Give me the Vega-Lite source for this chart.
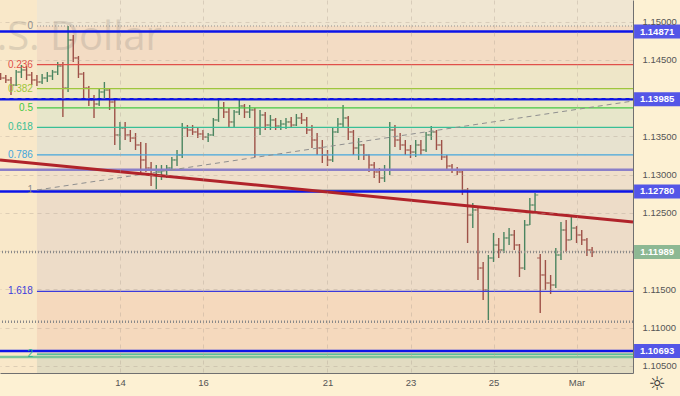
{
"$schema":"https://vega.github.io/schema/vega-lite/v6.json",
"width":633,"height":373,
"autosize":{"type":"none"},
"padding":{"left":0,"top":0,"right":47,"bottom":23},
"background":"#fdf1d3",
"view":{"fill":"#f9e8c9","stroke":null},
"datasets":{
"bars":[
{"t":0.125,"o":1.14289,"h":1.14328,"l":1.14237,"c":1.14263},
{"t":0.25,"o":1.14263,"h":1.14302,"l":1.14198,"c":1.14237},
{"t":0.375,"o":1.14237,"h":1.14276,"l":1.14041,"c":1.14171},
{"t":0.5,"o":1.14171,"h":1.14368,"l":1.14158,"c":1.14341},
{"t":0.625,"o":1.14341,"h":1.14433,"l":1.14263,"c":1.14368},
{"t":0.75,"o":1.14368,"h":1.1442,"l":1.14237,"c":1.14302},
{"t":0.875,"o":1.14302,"h":1.14341,"l":1.14171,"c":1.14237},
{"t":1.0,"o":1.14237,"h":1.14302,"l":1.14158,"c":1.14211},
{"t":1.125,"o":1.14211,"h":1.14315,"l":1.14185,"c":1.14263},
{"t":1.25,"o":1.14263,"h":1.14341,"l":1.14211,"c":1.14289},
{"t":1.375,"o":1.14289,"h":1.14368,"l":1.14237,"c":1.14341},
{"t":1.5,"o":1.14341,"h":1.14472,"l":1.14302,"c":1.1442},
{"t":1.625,"o":1.1442,"h":1.14472,"l":1.13753,"c":1.14132},
{"t":1.75,"o":1.14132,"h":1.14943,"l":1.1408,"c":1.1476},
{"t":1.875,"o":1.1476,"h":1.14825,"l":1.14472,"c":1.14525},
{"t":2.0,"o":1.14525,"h":1.14551,"l":1.14263,"c":1.14315},
{"t":2.125,"o":1.14315,"h":1.14341,"l":1.14001,"c":1.14132},
{"t":2.25,"o":1.14132,"h":1.14158,"l":1.13897,"c":1.13975},
{"t":2.375,"o":1.13975,"h":1.14041,"l":1.1374,"c":1.13923},
{"t":2.5,"o":1.13923,"h":1.14132,"l":1.13897,"c":1.1408},
{"t":2.625,"o":1.1408,"h":1.14211,"l":1.13975,"c":1.14106},
{"t":2.75,"o":1.14106,"h":1.14132,"l":1.13845,"c":1.13949},
{"t":2.875,"o":1.13949,"h":1.14001,"l":1.13387,"c":1.13518},
{"t":3.0,"o":1.13518,"h":1.13688,"l":1.13321,"c":1.13609},
{"t":3.125,"o":1.13609,"h":1.13688,"l":1.13452,"c":1.13518},
{"t":3.25,"o":1.13518,"h":1.13583,"l":1.13426,"c":1.13478},
{"t":3.375,"o":1.13478,"h":1.13544,"l":1.13321,"c":1.13387},
{"t":3.5,"o":1.13387,"h":1.13426,"l":1.12995,"c":1.13191},
{"t":3.625,"o":1.13191,"h":1.13413,"l":1.13034,"c":1.13086},
{"t":3.75,"o":1.13086,"h":1.13164,"l":1.12851,"c":1.12995},
{"t":3.875,"o":1.12995,"h":1.13125,"l":1.12811,"c":1.13034},
{"t":4.0,"o":1.13034,"h":1.13125,"l":1.12929,"c":1.1306},
{"t":4.125,"o":1.1306,"h":1.13125,"l":1.12955,"c":1.13086},
{"t":4.25,"o":1.13086,"h":1.1323,"l":1.1306,"c":1.13191},
{"t":4.375,"o":1.13191,"h":1.13321,"l":1.13112,"c":1.13256},
{"t":4.5,"o":1.13256,"h":1.13675,"l":1.13217,"c":1.13609},
{"t":4.625,"o":1.13609,"h":1.13648,"l":1.13491,"c":1.13583},
{"t":4.75,"o":1.13583,"h":1.13648,"l":1.13518,"c":1.13557},
{"t":4.875,"o":1.13557,"h":1.13609,"l":1.13478,"c":1.13531},
{"t":5.0,"o":1.13531,"h":1.13583,"l":1.13452,"c":1.13491},
{"t":5.125,"o":1.13491,"h":1.13544,"l":1.13426,"c":1.13518},
{"t":5.25,"o":1.13518,"h":1.1374,"l":1.13505,"c":1.13714},
{"t":5.375,"o":1.13714,"h":1.13975,"l":1.13688,"c":1.13871},
{"t":5.5,"o":1.13871,"h":1.13949,"l":1.1374,"c":1.13818},
{"t":5.625,"o":1.13818,"h":1.13871,"l":1.13622,"c":1.13688},
{"t":5.75,"o":1.13688,"h":1.13845,"l":1.13609,"c":1.13818},
{"t":5.875,"o":1.13818,"h":1.13975,"l":1.13779,"c":1.13897},
{"t":6.0,"o":1.13897,"h":1.13923,"l":1.1374,"c":1.13818},
{"t":6.125,"o":1.13818,"h":1.1391,"l":1.1374,"c":1.13845},
{"t":6.25,"o":1.13845,"h":1.13871,"l":1.1323,"c":1.13609},
{"t":6.375,"o":1.13609,"h":1.13845,"l":1.13518,"c":1.13779},
{"t":6.5,"o":1.13779,"h":1.13818,"l":1.13583,"c":1.13648},
{"t":6.625,"o":1.13648,"h":1.13779,"l":1.13583,"c":1.13714},
{"t":6.75,"o":1.13714,"h":1.1374,"l":1.13583,"c":1.13635},
{"t":6.875,"o":1.13635,"h":1.13714,"l":1.13583,"c":1.13661},
{"t":7.0,"o":1.13661,"h":1.1374,"l":1.13596,"c":1.13688},
{"t":7.125,"o":1.13688,"h":1.13753,"l":1.13609,"c":1.13648},
{"t":7.25,"o":1.13648,"h":1.13792,"l":1.13635,"c":1.1374},
{"t":7.375,"o":1.1374,"h":1.13805,"l":1.13661,"c":1.13714},
{"t":7.5,"o":1.13714,"h":1.13753,"l":1.13531,"c":1.13583},
{"t":7.625,"o":1.13583,"h":1.13648,"l":1.13348,"c":1.13452},
{"t":7.75,"o":1.13452,"h":1.13544,"l":1.13256,"c":1.13348},
{"t":7.875,"o":1.13348,"h":1.13452,"l":1.13151,"c":1.13256},
{"t":8.0,"o":1.13256,"h":1.13321,"l":1.13112,"c":1.13191},
{"t":8.125,"o":1.13191,"h":1.13622,"l":1.13164,"c":1.13557},
{"t":8.25,"o":1.13557,"h":1.1374,"l":1.13544,"c":1.13661},
{"t":8.375,"o":1.13661,"h":1.1391,"l":1.13609,"c":1.1374},
{"t":8.5,"o":1.1374,"h":1.13766,"l":1.13452,"c":1.13557},
{"t":8.625,"o":1.13557,"h":1.13583,"l":1.13256,"c":1.13348},
{"t":8.75,"o":1.13348,"h":1.13478,"l":1.13191,"c":1.13387},
{"t":8.875,"o":1.13387,"h":1.134,"l":1.13191,"c":1.13256},
{"t":9.0,"o":1.13256,"h":1.13269,"l":1.13034,"c":1.13125},
{"t":9.125,"o":1.13125,"h":1.13164,"l":1.12955,"c":1.13034},
{"t":9.25,"o":1.13034,"h":1.13086,"l":1.1289,"c":1.12955},
{"t":9.375,"o":1.12955,"h":1.13125,"l":1.12903,"c":1.1306},
{"t":9.5,"o":1.1306,"h":1.13688,"l":1.12995,"c":1.13583},
{"t":9.625,"o":1.13583,"h":1.13648,"l":1.13361,"c":1.13452},
{"t":9.75,"o":1.13452,"h":1.13544,"l":1.13321,"c":1.13387},
{"t":9.875,"o":1.13387,"h":1.13452,"l":1.13256,"c":1.13321},
{"t":10.0,"o":1.13321,"h":1.13387,"l":1.13217,"c":1.13295},
{"t":10.125,"o":1.13295,"h":1.13452,"l":1.1323,"c":1.13387},
{"t":10.25,"o":1.13387,"h":1.13452,"l":1.13256,"c":1.13321},
{"t":10.375,"o":1.13321,"h":1.13557,"l":1.13295,"c":1.13518},
{"t":10.5,"o":1.13518,"h":1.13635,"l":1.13452,"c":1.13557},
{"t":10.625,"o":1.13557,"h":1.13583,"l":1.13321,"c":1.13387},
{"t":10.75,"o":1.13387,"h":1.13452,"l":1.13191,"c":1.1323},
{"t":10.875,"o":1.1323,"h":1.13256,"l":1.1306,"c":1.13112},
{"t":11.0,"o":1.13112,"h":1.13138,"l":1.13021,"c":1.1306},
{"t":11.125,"o":1.1306,"h":1.13099,"l":1.12995,"c":1.13034},
{"t":11.25,"o":1.13034,"h":1.1306,"l":1.12733,"c":1.12798},
{"t":11.375,"o":1.12798,"h":1.12825,"l":1.12105,"c":1.12471},
{"t":11.5,"o":1.12471,"h":1.12628,"l":1.12301,"c":1.12537},
{"t":11.625,"o":1.12537,"h":1.12563,"l":1.11621,"c":1.11778},
{"t":11.75,"o":1.11778,"h":1.11857,"l":1.1136,"c":1.11491},
{"t":11.875,"o":1.11491,"h":1.11948,"l":1.11098,"c":1.11909},
{"t":12.0,"o":1.11909,"h":1.12236,"l":1.11857,"c":1.12079},
{"t":12.125,"o":1.12079,"h":1.12171,"l":1.11909,"c":1.12014},
{"t":12.25,"o":1.12014,"h":1.12249,"l":1.11975,"c":1.12171},
{"t":12.375,"o":1.12171,"h":1.12301,"l":1.12079,"c":1.1221},
{"t":12.5,"o":1.1221,"h":1.12275,"l":1.12014,"c":1.12079},
{"t":12.625,"o":1.12079,"h":1.12092,"l":1.11661,"c":1.11778},
{"t":12.75,"o":1.11778,"h":1.12406,"l":1.11752,"c":1.12341},
{"t":12.875,"o":1.12341,"h":1.12694,"l":1.12341,"c":1.12602},
{"t":13.0,"o":1.12602,"h":1.12759,"l":1.12511,"c":1.12733},
{"t":13.125,"o":1.11909,"h":1.11962,"l":1.1119,"c":1.11687},
{"t":13.25,"o":1.11687,"h":1.11883,"l":1.11491,"c":1.11582},
{"t":13.375,"o":1.11582,"h":1.11687,"l":1.11438,"c":1.11556},
{"t":13.5,"o":1.11556,"h":1.1204,"l":1.11517,"c":1.11948},
{"t":13.625,"o":1.11948,"h":1.1238,"l":1.11883,"c":1.12275},
{"t":13.75,"o":1.12275,"h":1.12406,"l":1.11988,"c":1.12145},
{"t":13.875,"o":1.12145,"h":1.12458,"l":1.12145,"c":1.12301},
{"t":14.0,"o":1.12301,"h":1.12328,"l":1.12105,"c":1.1221},
{"t":14.125,"o":1.1221,"h":1.12275,"l":1.12079,"c":1.12145},
{"t":14.25,"o":1.12145,"h":1.12171,"l":1.11935,"c":1.12014},
{"t":14.375,"o":1.12014,"h":1.12053,"l":1.11922,"c":1.11988}
],
"fib":[
{"level":"0","price":1.14943},
{"level":"0.236","price":1.14437},
{"level":"0.382","price":1.14124},
{"level":"0.5","price":1.13871},
{"level":"0.618","price":1.13617},
{"level":"0.786","price":1.13257},
{"level":"1","price":1.12798},
{"level":"1.618","price":1.11472},
{"level":"2","price":1.10653}
],
"bands":[
{"band":"top","hi":1.15283,"lo":1.14943},
{"band":"0-0.236","hi":1.14943,"lo":1.14437},
{"band":"0.236-0.382","hi":1.14437,"lo":1.14124},
{"band":"0.382-0.5","hi":1.14124,"lo":1.13871},
{"band":"0.5-0.618","hi":1.13871,"lo":1.13617},
{"band":"0.618-0.786","hi":1.13617,"lo":1.13257},
{"band":"0.786-1","hi":1.13257,"lo":1.12798},
{"band":"1-1.618","hi":1.12798,"lo":1.11472},
{"band":"1.618-2","hi":1.11472,"lo":1.10653},
{"band":"bottom","hi":1.10653,"lo":1.10405}
],
"hlines":[
{"price":1.14871,"kind":"level"},
{"price":1.13985,"kind":"level"},
{"price":1.1278,"kind":"level"},
{"price":1.10693,"kind":"level"},
{"price":1.13064,"kind":"purple"},
{"price":1.11989,"kind":"last"},
{"price":1.11076,"kind":"dotted"},
{"price":1.10615,"kind":"green"}
],
"trend":[
{"line":"red","t":0.11,"price":1.13191},
{"line":"red","t":15.36,"price":1.1238},
{"line":"diag","t":1.0,"price":1.12798},
{"line":"diag","t":15.36,"price":1.13962}
],
"meta":[{"symbol":"U.S. Dollar","icon":"☼"}]
},
"layer":[
{
"data":{"name":"bands"},
"mark":{"type":"rect"},
"encoding":{
"x":{"datum":1.0,"type":"quantitative","scale":{"domain":[0.11,15.36],"nice":false,"zero":false},
"axis":{"title":null,"values":[3,5,8,10,12,14],"labelExpr":"datum.value==3?'14':datum.value==5?'16':datum.value==8?'21':datum.value==10?'23':datum.value==12?'25':'Mar'","grid":true,"gridDash":[4,4],"gridColor":"#b3a696","gridOpacity":0.4,"ticks":false,"domain":true,"domainColor":"#707070","labelColor":"#555555","labelFontSize":9.5,"labelFont":"Liberation Sans","labelPadding":4,"zindex":1}},
"x2":{"datum":15.36},
"y":{"field":"hi","type":"quantitative","scale":{"domain":[1.10405,1.15283],"nice":false,"zero":false},
"axis":{"title":null,"orient":"right","values":[1.105,1.11,1.115,1.12,1.125,1.13,1.135,1.14,1.145,1.15],"labelExpr":"abs(datum.value-1.14)<0.000001||abs(datum.value-1.12)<0.000001?'':format(datum.value,'.5f')","labelOverlap":false,"labelAlign":"left","labelPadding":9,"grid":true,"gridDash":[4,4],"gridColor":"#b3a696","gridOpacity":0.4,"ticks":false,"domain":true,"domainColor":"#707070","labelColor":"#555555","labelFontSize":9.5,"labelFont":"Liberation Sans","zindex":1}},
"y2":{"field":"lo"},
"fill":{"field":"band","type":"nominal","legend":null,"scale":{"domain":["top","0-0.236","0.236-0.382","0.382-0.5","0.5-0.618","0.618-0.786","0.786-1","1-1.618","1.618-2","bottom"],"range":["#f0e6d2","#f3dcc4","#eee6c8","#eae8c7","#e7e6ca","#e7e2cf","#efdfca","#eddcc8","#f5d9bd","#e2dcc2"]}}
}
},
{
"data":{"name":"meta"},
"mark":{"type":"text","align":"right","baseline":"middle","fontSize":40,"font":"Open Sans","fill":"#9e968c","opacity":0.3},
"encoding":{"x":{"datum":4.01,"type":"quantitative"},"y":{"datum":1.14786,"type":"quantitative"},"text":{"field":"symbol"}}
},
{
"data":{"name":"bars"},
"mark":{"type":"rule","strokeWidth":1.4},
"encoding":{"x":{"field":"t","type":"quantitative","axis":{"title":null}},"y":{"field":"l","type":"quantitative","axis":{"title":null}},"y2":{"field":"h"},
"color":{"condition":{"test":"datum.c>=datum.o","value":"#4b8560"},"value":"#9e5148"}}
},
{
"data":{"name":"bars"},
"mark":{"type":"tick","orient":"horizontal","size":3,"thickness":1.2,"xOffset":-1.7},
"encoding":{"x":{"field":"t","type":"quantitative","axis":{"title":null}},"y":{"field":"o","type":"quantitative","axis":{"title":null}},
"color":{"condition":{"test":"datum.c>=datum.o","value":"#4b8560"},"value":"#9e5148"}}
},
{
"data":{"name":"bars"},
"mark":{"type":"tick","orient":"horizontal","size":3,"thickness":1.2,"xOffset":1.7},
"encoding":{"x":{"field":"t","type":"quantitative","axis":{"title":null}},"y":{"field":"c","type":"quantitative","axis":{"title":null}},
"color":{"condition":{"test":"datum.c>=datum.o","value":"#4b8560"},"value":"#9e5148"}}
},
{
"data":{"name":"fib"},
"mark":{"type":"rule","strokeWidth":1.2},
"encoding":{"x":{"datum":1.0,"type":"quantitative"},"x2":{"datum":15.36},"y":{"field":"price","type":"quantitative","axis":{"title":null}},
"color":{"field":"level","type":"nominal","legend":null,"scale":{"domain":["0","0.236","0.382","0.5","0.618","0.786","1","1.618","2"],"range":["#8d8d8d","#e0504a","#9ec63c","#44c844","#38bf96","#45a6dc","#8d8d8d","#3b3bdc","#2fb38f"]}},
"strokeDash":{"condition":{"test":"datum.level=='0'","value":[1,2]},"value":[1,0]}}
},
{
"data":{"name":"hlines"},
"mark":{"type":"rule"},
"encoding":{"y":{"field":"price","type":"quantitative","axis":{"title":null}},
"stroke":{"field":"kind","type":"nominal","legend":null,"scale":{"domain":["level","purple","last","dotted","green"],"range":["#0c14e8","#8b7fc8","#8a8a8a","#8a8a8a","#7cc59a"]}},
"strokeWidth":{"field":"kind","type":"nominal","legend":null,"scale":{"domain":["level","purple","last","dotted","green"],"range":[2.5,2.5,1,1,1]}},
"strokeDash":{"field":"kind","type":"nominal","legend":null,"scale":{"domain":["level","purple","last","dotted","green"],"range":[[1,0],[1,0],[1,2],[1,2],[1,0]]}}}
},
{
"data":{"name":"trend"},
"transform":[{"filter":"datum.line=='diag'"}],
"mark":{"type":"line","color":"#8f8f8f","strokeWidth":1,"strokeDash":[5,4]},
"encoding":{"x":{"field":"t","type":"quantitative","axis":{"title":null}},"y":{"field":"price","type":"quantitative","axis":{"title":null}}}
},
{
"data":{"name":"trend"},
"transform":[{"filter":"datum.line=='red'"}],
"mark":{"type":"line","color":"#b0232a","strokeWidth":3},
"encoding":{"x":{"field":"t","type":"quantitative","axis":{"title":null}},"y":{"field":"price","type":"quantitative","axis":{"title":null}}}
},
{
"data":{"name":"fib"},
"mark":{"type":"text","align":"right","baseline":"middle","dx":-4,"fontSize":10,"font":"Liberation Sans"},
"encoding":{"x":{"datum":1.0,"type":"quantitative"},"y":{"field":"price","type":"quantitative","axis":{"title":null}},"text":{"field":"level"},
"color":{"field":"level","type":"nominal","legend":null}}
},
{
"data":{"name":"hlines"},
"transform":[{"filter":"datum.kind=='level'||datum.kind=='last'"}],
"mark":{"type":"tick","orient":"horizontal","size":46,"thickness":14},
"encoding":{"x":{"datum":15.94,"type":"quantitative"},"y":{"field":"price","type":"quantitative","axis":{"title":null}},
"color":{"condition":{"test":"datum.kind=='last'","value":"#5c9f78"},"value":"#0c14f0"}}
},
{
"data":{"name":"hlines"},
"transform":[{"filter":"datum.kind=='level'||datum.kind=='last'"}],
"mark":{"type":"text","align":"center","baseline":"middle","fontSize":9.5,"fontWeight":"bold","font":"Liberation Sans","fill":"#ffffff"},
"encoding":{"x":{"datum":15.94,"type":"quantitative"},"y":{"field":"price","type":"quantitative","axis":{"title":null}},"text":{"field":"price","type":"quantitative","format":".5f"}}
},
{
"data":{"name":"meta"},
"mark":{"type":"text","align":"center","baseline":"middle","fontSize":19,"font":"DejaVu Sans","fill":"#333333"},
"encoding":{"x":{"datum":15.94,"type":"quantitative"},"y":{"datum":1.10261,"type":"quantitative"},"text":{"field":"icon"}}
}
]
}
